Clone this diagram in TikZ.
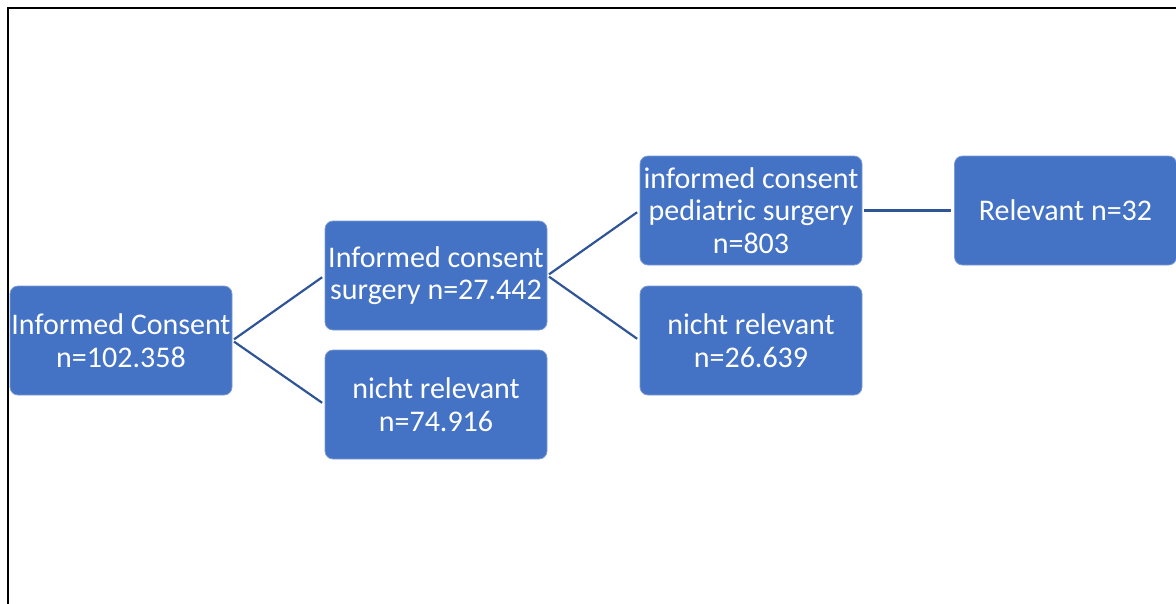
\documentclass[tikz,border=0pt]{standalone}
\usepackage{fontspec}
\setmainfont{Carlito}
\definecolor{boxblue}{HTML}{4472C4}
\definecolor{lineblue}{HTML}{2F5597}
\tikzset{
    box/.style={rectangle, rounded corners=8pt, fill=boxblue, draw=boxblue!70!white,
        line width=0.8pt, text=white, align=center, inner sep=0pt,
        minimum width=222pt, minimum height=109pt,
        font=\fontsize{30}{32.5}\selectfont},
    link/.style={draw=lineblue, line width=2.2pt, shorten <=2pt, shorten >=3pt}
}
\begin{document}
\begin{tikzpicture}[x=1pt, y=-1pt]
            \def \xone          {121};
            \def \xtwo          {436};
            \def \xthree        {751};
            \def \xfour         {1065.5};

            \def \ytop           {210.5};
            \def \yup            {275.5};
            \def \ymid           {340.5};
            \def \ylow           {404.5};

            \useasboundingbox (0,0) rectangle (1176,603);
            \draw [line width=2pt] (8,604) -- (8,8) -- (1177,8);
% boxes
            \node [box] (consent) at (\xone, \ymid) {Informed Consent\\n=102.358};
            \node [box] (surgery) at (\xtwo, \yup) {Informed consent\\surgery n=27.442};
            \node [box] (irrelA) at (\xtwo, \ylow) {nicht relevant\\n=74.916};
            \node [box] (pediatric) at (\xthree, \ytop) {informed consent\\pediatric surgery\\n=803};
            \node [box] (irrelB) at (\xthree, \ymid) {nicht relevant\\n=26.639};
            \node [box] (relevant) at (\xfour, \ytop) {Relevant n=32};
% lines
            \draw [link] (consent.east) -- (surgery.west);
            \draw [link] (consent.east) -- (irrelA.west);
            \draw [link] (surgery.east) -- (pediatric.west);
            \draw [link] (surgery.east) -- (irrelB.west);
            \draw [link] (pediatric.east) -- (relevant.west);
\end{tikzpicture}
\end{document}
